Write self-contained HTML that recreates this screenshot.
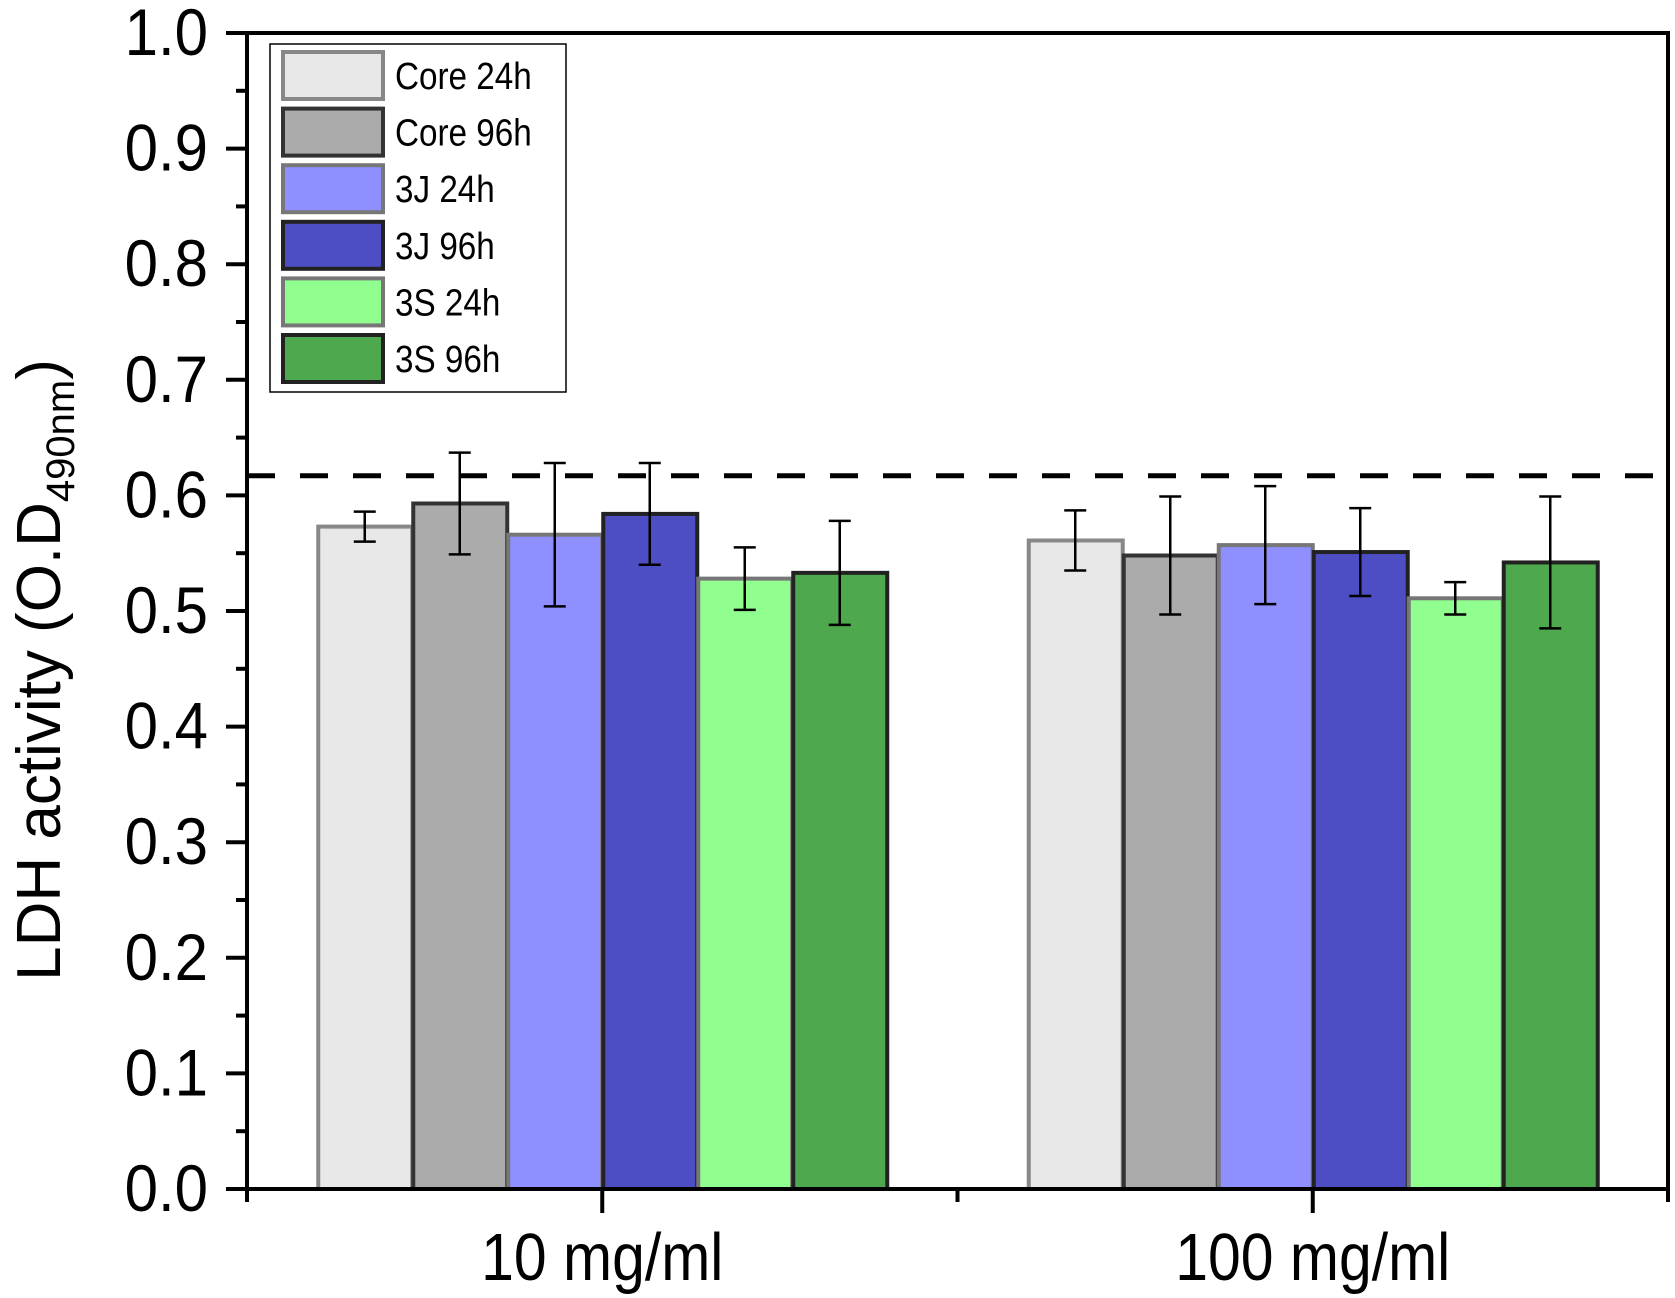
<!DOCTYPE html>
<html><head><meta charset="utf-8"><style>
html,body{margin:0;padding:0;background:#fff;width:1675px;height:1298px;overflow:hidden}
svg text{font-family:"Liberation Sans",sans-serif;fill:#000}
</style></head><body>
<svg id="chart" width="1675" height="1298" viewBox="0 0 1675 1298" xmlns="http://www.w3.org/2000/svg"></svg>
<script>
const categories = ["10 mg/ml", "100 mg/ml"];
const seriesNames = ["Core 24h", "Core 96h", "3J 24h", "3J 96h", "3S 24h", "3S 96h"];
const values10 = [0.573, 0.593, 0.566, 0.584, 0.528, 0.533];
const values100 = [0.561, 0.548, 0.557, 0.551, 0.511, 0.542];
const errors10 = [0.013, 0.044, 0.062, 0.044, 0.027, 0.045];
const errors100 = [0.026, 0.051, 0.051, 0.038, 0.014, 0.057];
const yTicks = [0.0, 0.1, 0.2, 0.3, 0.4, 0.5, 0.6, 0.7, 0.8, 0.9, 1.0];
const controlLevel = [0.617];

const fills = ["#e8e8e8","#ababab","#8f8fff","#4d4dc4","#91ff8f","#4ea84e"];
const strokes = ["#888","#333","#777","#222","#777","#222"];
const L=247,R=1668,T=33,B=1189;
const NS="http://www.w3.org/2000/svg";
const svg=document.getElementById('chart');
function y(v){return B-(v-0)/(1-0)*(B-T);}
function x(v){return L+v/2*(R-L);}
function el(t,a,p){const e=document.createElementNS(NS,t);for(const k in a)e.setAttribute(k,a[k]);(p||svg).appendChild(e);return e;}

const barW=95;
const allVals=[values10,values100], allErr=[errors10,errors100];
categories.forEach((c,gi)=>{
  const cx=x(gi+0.5);
  const start=cx-barW*seriesNames.length/2;
  allVals[gi].forEach((v,si)=>{
    const r=el('rect',{x:start+si*barW+1,y:y(v),width:barW-1,height:B-y(v),fill:fills[si],stroke:strokes[si],'stroke-width':4});
    
    
  });
  allVals[gi].forEach((v,si)=>{
    const bx=start+si*barW+barW/2, e=allErr[gi][si];
    const g=el('g',{stroke:'#000','stroke-width':2.5});
    
    
    el('line',{x1:bx,x2:bx,y1:y(v+e),y2:y(v-e)},g);
    el('line',{x1:bx-11,x2:bx+11,y1:y(v+e),y2:y(v+e)},g);
    el('line',{x1:bx-11,x2:bx+11,y1:y(v-e),y2:y(v-e)},g);
  });
  const t=el('text',{x:0,y:0,'font-size':62,'text-anchor':'middle',transform:'translate('+cx+',1280) scale(0.95,1.08)'});
  t.textContent=c;
  
  
});

const dash=el('line',{x1:L,x2:R,y1:y(controlLevel[0]),y2:y(controlLevel[0]),stroke:'#000','stroke-width':5,'stroke-dasharray':'28 25'});



const frame=el('rect',{x:L,y:T,width:R-L,height:B-T,fill:'none',stroke:'#000','stroke-width':4});



yTicks.forEach((v,i)=>{
  el('line',{x1:L-21,x2:L,y1:y(v),y2:y(v),stroke:'#000','stroke-width':4});
  if(i<yTicks.length-1){const m=(v+yTicks[i+1])/2;el('line',{x1:L-11,x2:L,y1:y(m),y2:y(m),stroke:'#000','stroke-width':4});}
  const t=el('text',{x:0,y:0,'font-size':60,'text-anchor':'end',transform:'translate(208,'+(y(v)+22)+') scale(1,1.1)'});
  t.textContent=v.toFixed(1);
  
  
});
[0,1,2].forEach(v=>el('line',{x1:x(v),x2:x(v),y1:B,y2:B+13,stroke:'#000','stroke-width':4}));
[0.5,1.5].forEach(v=>el('line',{x1:x(v),x2:x(v),y1:B,y2:B+24,stroke:'#000','stroke-width':4}));

const yt=el('text',{x:0,y:0,'font-size':62,'text-anchor':'middle',transform:'translate(60,670) rotate(-90)'});


yt.innerHTML='LDH activity (O.D<tspan font-size="40" dy="14">490nm</tspan><tspan dy="-14">)</tspan>';

const lg=el('g',{});


el('rect',{x:270,y:44,width:296,height:348,fill:'#fff',stroke:'#000','stroke-width':1.5},lg);
seriesNames.forEach((n,i)=>{
  const g=el('g',{},lg);
  
  
  const yy=52+i*56.6;
  el('rect',{x:283,y:yy,width:100,height:47,fill:fills[i],stroke:strokes[i],'stroke-width':4},g);
  const t=el('text',{x:0,y:0,'font-size':35,transform:'translate(395,'+(yy+37)+') scale(0.95,1.08)'},g);
  t.textContent=n;
});
</script>
</body></html>
